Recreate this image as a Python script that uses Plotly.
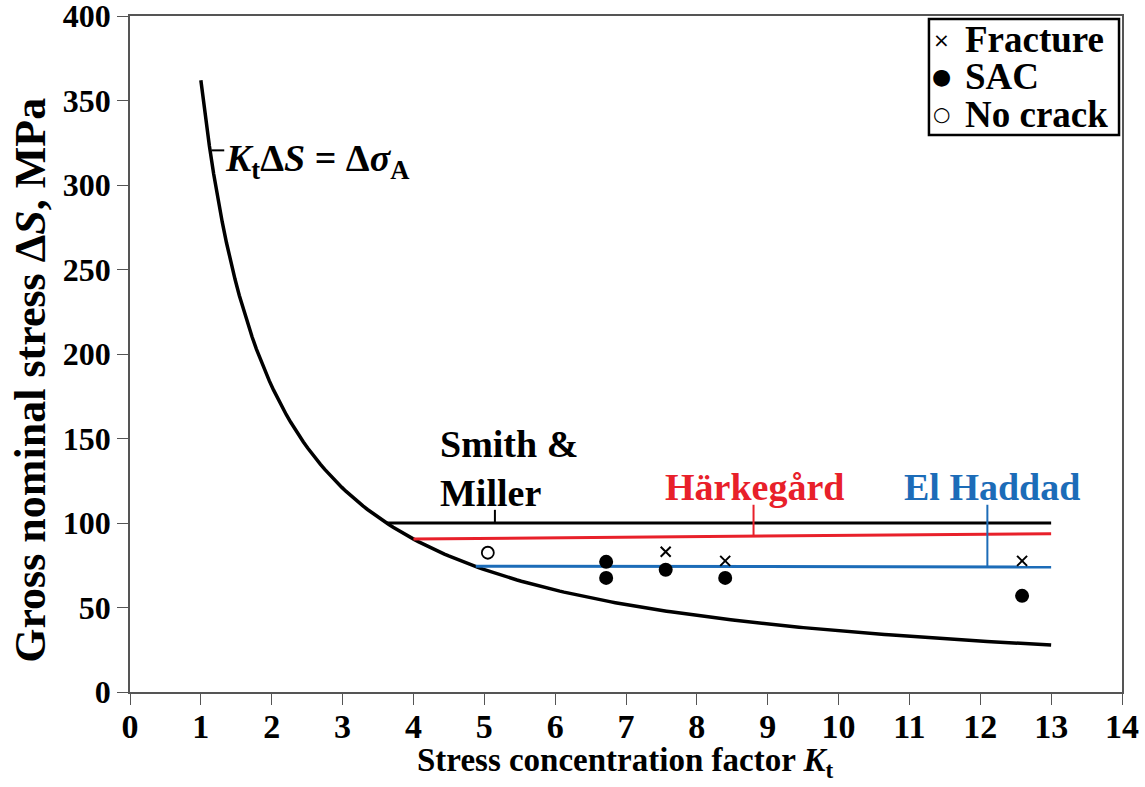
import numpy as np
import plotly.graph_objects as go

# Fatigue limit of the plain material, Kt*dS = d(sigma)_A
DELTA_SIGMA_A = 362.0
kt_curve = np.linspace(1.0, 13.0, 200)

# Threshold predictions (Kt, dS in MPa)
smith_miller_kt = [3.62, 13.0]
smith_miller_ds = [100.0, 100.0]
harkegard_kt = [4.0, 8.8, 13.0]
harkegard_ds = [90.5, 92.3, 93.7]
el_haddad_kt = [4.88, 13.0]
el_haddad_ds = [74.4, 74.0]

# Test results
fracture_kt = [7.56, 8.40, 12.59]
fracture_ds = [83.0, 77.6, 77.6]
sac_kt = [6.72, 6.72, 7.56, 8.40, 12.59]
sac_ds = [77.0, 67.5, 72.3, 67.5, 56.9]
nocrack_kt = [5.05]
nocrack_ds = [82.4]

legend_labels = ["Fracture", "SAC", "No crack"]
legend_glyphs = ["×", "●", "○"]

RED = "#e8202a"
BLUE = "#1c6cb8"
FONT = "Liberation Serif, Times New Roman, Tinos, DejaVu Serif, serif"

fig = go.Figure()

fig.add_trace(go.Scatter(x=kt_curve, y=DELTA_SIGMA_A / kt_curve, mode="lines",
                         line=dict(color="black", width=3.5), showlegend=False))
fig.add_trace(go.Scatter(x=smith_miller_kt, y=smith_miller_ds, mode="lines",
                         line=dict(color="black", width=3), showlegend=False))
fig.add_trace(go.Scatter(x=harkegard_kt, y=harkegard_ds, mode="lines",
                         line=dict(color=RED, width=3), showlegend=False))
fig.add_trace(go.Scatter(x=el_haddad_kt, y=el_haddad_ds, mode="lines",
                         line=dict(color=BLUE, width=3), showlegend=False))

fig.add_trace(go.Scatter(x=fracture_kt, y=fracture_ds, mode="markers", name=legend_labels[0],
                         marker=dict(symbol="x-thin", size=10, color="black",
                                     line=dict(color="black", width=2)), showlegend=False))
fig.add_trace(go.Scatter(x=sac_kt, y=sac_ds, mode="markers", name=legend_labels[1],
                         marker=dict(symbol="circle", size=14, color="black"), showlegend=False))
fig.add_trace(go.Scatter(x=nocrack_kt, y=nocrack_ds, mode="markers", name=legend_labels[2],
                         marker=dict(symbol="circle-open", size=12, color="black",
                                     line=dict(color="black", width=1.8)), showlegend=False))

# Leader lines from labels to their curves
leaders = [
    (5.15, 100.0, 107.8, "black"),
    (8.8, 92.3, 110.8, RED),
    (12.1, 74.2, 110.8, BLUE),
]
for lx, y0, y1, col in leaders:
    fig.add_shape(type="line", x0=lx, x1=lx, y0=y0, y1=y1, xref="x", yref="y",
                  line=dict(color=col, width=2))
fig.add_shape(type="line", x0=1.15, x1=1.33, y0=320.5, y1=320.5, xref="x", yref="y",
              line=dict(color="black", width=2))

ann_font = dict(family=FONT, size=38)
fig.add_annotation(x=1.31, y=314, xref="x", yref="y", xanchor="left", yanchor="middle",
                   text="<b><i>K</i><sub>t</sub>Δ<i>S</i> = Δ<i>σ</i><sub>A</sub></b>",
                   showarrow=False, font=dict(ann_font, color="black"))
fig.add_annotation(x=4.35, y=132.5, xref="x", yref="y", xanchor="left", yanchor="middle",
                   text="<b>Smith &<br>Miller</b>", align="left",
                   showarrow=False, font=dict(ann_font, color="black"))
fig.add_annotation(x=8.82, y=121.5, xref="x", yref="y", xanchor="center", yanchor="middle",
                   text="<b>Härkegård</b>", showarrow=False, font=dict(ann_font, color=RED))
fig.add_annotation(x=12.16, y=121.5, xref="x", yref="y", xanchor="center", yanchor="middle",
                   text="<b>El Haddad</b>", showarrow=False, font=dict(ann_font, color=BLUE))

# Axis titles
fig.add_annotation(x=0.499, y=-0.104, xref="paper", yref="paper", xanchor="center",
                   yanchor="middle", showarrow=False,
                   text="<b>Stress concentration factor <i>K</i><sub>t</sub></b>",
                   font=dict(family=FONT, size=33, color="black"))
fig.add_annotation(x=-0.101, y=0.4615, xref="paper", yref="paper", xanchor="center",
                   yanchor="middle", showarrow=False, textangle=-90,
                   text="<b>Gross nominal stress Δ<i>S</i>, MPa</b>",
                   font=dict(family=FONT, size=44, color="black"))

# Legend box
fig.add_shape(type="rect", x0=0.8054, x1=0.997, y0=0.824, y1=0.9956, xref="paper",
              yref="paper", line=dict(color="black", width=2.5), fillcolor="white", layer="above")
legend_rows = [0.9645, 0.9098, 0.855]
glyph_sizes = [20, 22, 20]
for label, glyph, gy, gs in zip(legend_labels, legend_glyphs, legend_rows, glyph_sizes):
    fig.add_annotation(x=0.8185, y=gy, xref="paper", yref="paper", xanchor="center",
                       yanchor="middle", showarrow=False, text=glyph,
                       font=dict(family="DejaVu Sans", size=gs, color="black"))
    fig.add_annotation(x=0.8395, y=gy, xref="paper", yref="paper", xanchor="left",
                       yanchor="middle", showarrow=False, text=f"<b>{label}</b>",
                       font=dict(family=FONT, size=37, color="black"))

axis_common = dict(showline=True, linecolor="#555555", linewidth=1.5, mirror=True,
                   ticks="outside", ticklen=11, tickwidth=1.2, tickcolor="#555555",
                   showgrid=False, zeroline=False, automargin=False,
                   ticklabeloverflow="allow")

fig.update_layout(
    template="none",
    width=1145, height=787,
    margin=dict(l=130, r=23, t=16, b=95),
    paper_bgcolor="white", plot_bgcolor="white",
    font=dict(family=FONT, color="black"),
    showlegend=False,
    xaxis=dict(axis_common, range=[0, 14], dtick=1, tick0=0, ticklabelstandoff=-8,
               tickfont=dict(family=FONT, size=34, color="black"),
               tickprefix="<b>", ticksuffix="</b>"),
    yaxis=dict(axis_common, range=[0, 400], dtick=50, tick0=0,
               tickfont=dict(family=FONT, size=32, color="black"),
               tickprefix="<b>", ticksuffix="</b>"),
)

fig.write_html("out.html")
